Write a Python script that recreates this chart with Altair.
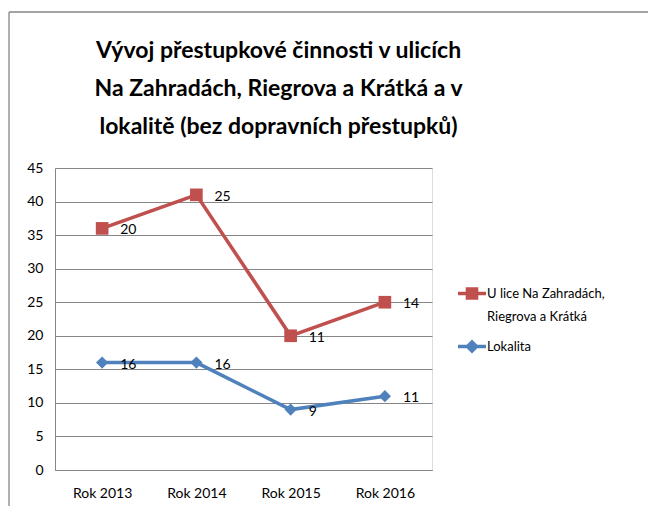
import altair as alt
import pandas as pd

years = ["Rok 2013", "Rok 2014", "Rok 2015", "Rok 2016"]
ulice = [20, 25, 11, 14]
lokalita = [16, 16, 9, 11]
series_names = ["Ulice Na Zahradách, Riegrova a Krátká", "Lokalita"]
colors = ["#C0504D", "#4F81BD"]
y_ticks = [0, 5, 10, 15, 20, 25, 30, 35, 40, 45]
title_lines = [
    "Vývoj přestupkové činnosti v ulicích",
    "Na Zahradách, Riegrova a Krátká a v",
    "lokalitě (bez dopravních přestupků)",
]

FONT = "Lato"
GRID = "#868686"

df = pd.DataFrame({"year": years, "ulice": ulice, "lokalita": lokalita})

x_enc = alt.X(
    "year:N",
    sort=years,
    title=None,
    axis=alt.Axis(labelAngle=0, ticks=False, labelPadding=16, domainColor=GRID,
                  labelFont=FONT, labelFontSize=14, labelColor="black"),
)
y_axis = alt.Axis(values=y_ticks, ticks=False, labelPadding=12, domainColor=GRID,
                  gridColor=GRID, labelFont=FONT, labelFontSize=14, labelColor="black",
                  title=None)
y_scale = alt.Scale(domain=[0, 45], nice=False)

base = alt.Chart(df).transform_calculate(top="datum.ulice + datum.lokalita")

red_line = base.mark_line(color=colors[0], strokeWidth=3.5).encode(
    x=x_enc, y=alt.Y("top:Q", scale=y_scale, axis=y_axis))
red_pts = base.mark_point(shape="square", filled=True, size=160, color=colors[0], opacity=1).encode(
    x=x_enc, y=alt.Y("top:Q", scale=y_scale, axis=y_axis))
red_txt = base.mark_text(align="left", baseline="middle", dx=18, dy=2, fontSize=14,
                         font=FONT, color="black").encode(
    x=x_enc, y=alt.Y("top:Q", scale=y_scale, axis=y_axis), text="ulice:Q")

blue_line = base.mark_line(color=colors[1], strokeWidth=3.5).encode(
    x=x_enc, y=alt.Y("lokalita:Q", scale=y_scale, axis=y_axis))
blue_pts = base.mark_point(shape="diamond", filled=True, size=150, color=colors[1], opacity=1).encode(
    x=x_enc, y=alt.Y("lokalita:Q", scale=y_scale, axis=y_axis))
blue_txt = base.mark_text(align="left", baseline="middle", dx=18, dy=2, fontSize=14,
                          font=FONT, color="black").encode(
    x=x_enc, y=alt.Y("lokalita:Q", scale=y_scale, axis=y_axis), text="lokalita:Q")

path_sq = "M-1,-0.445L1,-0.445L1,-0.195L-1,-0.195Z M-0.45,-0.77L0.45,-0.77L0.45,0.13L-0.45,0.13Z"
path_di = "M-1,-0.445L1,-0.445L1,-0.195L-1,-0.195Z M0,-0.82L0.5,-0.32L0,0.18L-0.5,-0.32Z"

legend = alt.Legend(
    orient="none", legendX=403, legendY=116, title=None,
    labelFont=FONT, labelFontSize=13, labelColor="black", labelLimit=0,
    labelBaseline="alphabetic", symbolSize=784, symbolStrokeWidth=0, rowPadding=13,
    labelOffset=1,
    labelExpr="datum.label == 'Lokalita' ? 'Lokalita' : ['U lice Na Zahradách,', 'Riegrova a Krátká']",
)
legend_layer = alt.Chart(pd.DataFrame({"s": series_names})).transform_filter("false").mark_point(
    filled=True, opacity=1, size=784).encode(
    color=alt.Color("s:N", scale=alt.Scale(domain=series_names, range=colors), legend=legend),
    shape=alt.Shape("s:N", scale=alt.Scale(domain=series_names, range=[path_sq, path_di]), legend=legend),
)

border_df = pd.DataFrame({"a": [0]})
border_top = alt.Chart(border_df).mark_rule(color=GRID, strokeWidth=1.3).encode(
    x=alt.value(-46), x2=alt.value(620), y=alt.value(-156))
border_left = alt.Chart(border_df).mark_rule(color=GRID, strokeWidth=1.3).encode(
    x=alt.value(-46), y=alt.value(-156), y2=alt.value(345))

chart = alt.layer(
    border_top, border_left, blue_line, red_line, blue_pts, red_pts, blue_txt, red_txt, legend_layer
).properties(
    width=377, height=302,
    title=alt.TitleParams(text=title_lines, font=FONT, fontSize=23, fontWeight="bold",
                          color="black", lineHeight=38, anchor="middle", frame="group",
                          dx=35, offset=-128),
    autosize=alt.AutoSizeParams(type="none"),
    padding={"left": 47, "top": 160, "right": 216, "bottom": 36},
).configure_view(stroke=None).configure(style={"guide-label": {"lineHeight": 23}})

chart.save("out.html", embed_options={"renderer": "svg", "actions": False})
